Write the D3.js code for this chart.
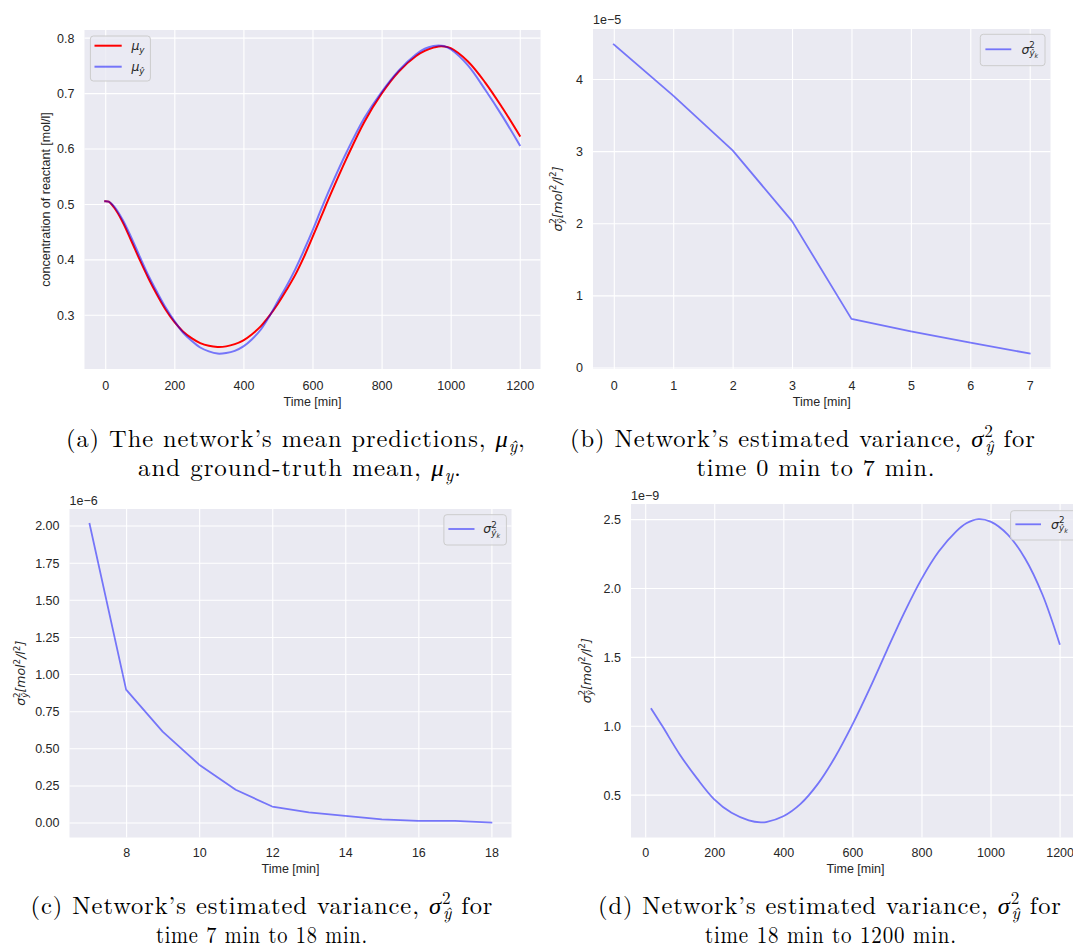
<!DOCTYPE html>
<html>
<head>
<meta charset="utf-8">
<script src="https://cdn.jsdelivr.net/npm/d3@7"></script>
<style>
  body { margin: 0; background: #ffffff; }
  svg { display: block; }
</style>
</head>
<body>
<svg id="fig" width="1073" height="949"></svg>
<script>
// ---------- data ----------
// (a) mean concentration of the reactant: ground truth and network prediction
const timeMean = [0,10,25,50,75,100,125,150,175,200,225,250,275,300,325,350,375,400,425,450,475,500,525,550,575,600,625,650,700,750,800,850,900,925,950,965,980,1000,1050,1100,1150,1200];
const muTrue = [0.505,0.504,0.494,0.468,0.434,0.399,0.366,0.336,0.309,0.287,0.270,0.258,0.249,0.244,0.242,0.243,0.247,0.254,0.265,0.279,0.298,0.320,0.345,0.372,0.404,0.440,0.477,0.514,0.584,0.648,0.699,0.739,0.767,0.776,0.782,0.784,0.784,0.781,0.757,0.719,0.673,0.623];
const muPred = [0.505,0.504,0.496,0.472,0.440,0.405,0.371,0.341,0.313,0.289,0.268,0.253,0.241,0.234,0.230,0.231,0.235,0.243,0.256,0.273,0.297,0.325,0.352,0.382,0.416,0.452,0.490,0.527,0.595,0.655,0.702,0.741,0.770,0.780,0.785,0.786,0.785,0.779,0.750,0.706,0.658,0.606];

// (b) estimated variance, 0 to 7 min
const timeEarly = [0,1,2,3,4,5,6,7];
const varEarly = [4.48e-5,3.77e-5,3.01e-5,2.03e-5,0.674e-5,0.50e-5,0.344e-5,0.193e-5];

// (c) estimated variance, 7 to 18 min
const timeMid = [7,8,9,10,11,12,13,14,15,16,17,18];
const varMid = [2.011e-6,0.895e-6,0.612e-6,0.390e-6,0.221e-6,0.108e-6,0.069e-6,0.045e-6,0.022e-6,0.011e-6,0.011e-6,0.0];

// (d) estimated variance, 18 to 1200 min
const timeLate = [18,50,100,150,200,250,300,335,350,400,450,500,550,600,650,700,750,800,850,900,930,965,1000,1050,1100,1150,1200];
const varLate = [1.122e-9,0.996e-9,0.792e-9,0.618e-9,0.466e-9,0.368e-9,0.314e-9,0.299e-9,0.301e-9,0.343e-9,0.433e-9,0.578e-9,0.773e-9,1.008e-9,1.270e-9,1.548e-9,1.820e-9,2.065e-9,2.265e-9,2.410e-9,2.470e-9,2.500e-9,2.482e-9,2.388e-9,2.215e-9,1.955e-9,1.595e-9];

// tick values
const ticksTimeLong = [0,200,400,600,800,1000,1200];
const ticksConc = [0.3,0.4,0.5,0.6,0.7,0.8];
const ticksTimeEarly = [0,1,2,3,4,5,6,7];
const ticksVarEarly = [0,1e-5,2e-5,3e-5,4e-5];
const ticksTimeMid = [8,10,12,14,16,18];
const ticksVarMid = [0,0.25e-6,0.5e-6,0.75e-6,1.0e-6,1.25e-6,1.5e-6,1.75e-6,2.0e-6];
const ticksVarLate = [0.5e-9,1.0e-9,1.5e-9,2.0e-9,2.5e-9];

// ---------- drawing ----------
const svg = d3.select('#fig');
const SANS = "'Liberation Sans', Arial, sans-serif";
const MATH = "'DejaVu Sans', sans-serif";
const SERIF = "'Latin Modern Roman', 'CMU Serif', 'Liberation Serif', serif";
const INK = '#262626';
const BG = '#eaeaf2';
const RED = '#ff0000';
const BLUE = '#0000ff';

// rich text with italics, superscripts and subscripts built from tspans
function rich(sel, parts, size) {
  let cur = 0;
  parts.forEach(p => {
    const lvl = p.lvl || 0;
    const fs = size * (lvl === 0 ? 1 : lvl === -2 ? 0.5 : 0.7);
    const off = lvl === 1 ? -0.42 * size : lvl === -1 ? 0.22 * size : lvl === -2 ? 0.38 * size : 0;
    const ts = sel.append('tspan').text(p.t).attr('font-size', fs).attr('dy', off - cur);
    if (p.it) ts.attr('font-style', 'italic');
    if (p.back) ts.attr('dx', -p.back * size);
    cur = off;
  });
}

const sigmaLabel = [
  {t: 'σ', it: true}, {t: '2', lvl: 1}, {t: 'ŷ', it: true, lvl: -1, back: 0.44},
  {t: '[mol', it: true}, {t: '2', lvl: 1}, {t: '/l', it: true}, {t: '2', lvl: 1}, {t: ']', it: true}
];
const sigmaLegend = [
  {t: 'σ', it: true}, {t: '2', lvl: 1}, {t: 'ŷ', it: true, lvl: -1, back: 0.44}, {t: 'k', it: true, lvl: -2}
];

function padded(vals) {
  const [lo, hi] = d3.extent(vals);
  const m = (hi - lo) * 0.05;
  return [lo - m, hi + m];
}

function drawPanel(cfg) {
  const b = cfg.box;
  const allX = cfg.series.flatMap(s => s.x);
  const allY = cfg.series.flatMap(s => s.y);
  const x = d3.scaleLinear().domain(padded(allX)).range([b.x0, b.x1]);
  const y = d3.scaleLinear().domain(padded(allY)).range([b.y1, b.y0]);
  const g = svg.append('g');

  g.append('rect').attr('x', b.x0).attr('y', b.y0)
    .attr('width', b.x1 - b.x0).attr('height', b.y1 - b.y0).attr('fill', BG);

  // white grid from the axis generators
  g.append('g').attr('transform', `translate(0,${b.y1})`)
    .call(d3.axisBottom(x).tickValues(cfg.xTicks).tickSize(-(b.y1 - b.y0)).tickFormat(''))
    .call(a => a.select('.domain').remove())
    .call(a => a.selectAll('line').attr('stroke', '#ffffff').attr('stroke-width', 1.1));
  g.append('g').attr('transform', `translate(${b.x0},0)`)
    .call(d3.axisLeft(y).tickValues(cfg.yTicks).tickSize(-(b.x1 - b.x0)).tickFormat(''))
    .call(a => a.select('.domain').remove())
    .call(a => a.selectAll('line').attr('stroke', '#ffffff').attr('stroke-width', 1.1));

  // tick labels
  g.append('g').attr('transform', `translate(0,${b.y1 + cfg.xLabDy})`)
    .call(d3.axisBottom(x).tickValues(cfg.xTicks).tickSize(0).tickPadding(0).tickFormat(cfg.xFmt))
    .call(a => a.select('.domain').remove())
    .call(a => a.selectAll('text').attr('dy', 0).attr('fill', INK)
      .attr('font-family', SANS).attr('font-size', 12.5));
  g.append('g').attr('transform', `translate(${b.x0 - 10},0)`)
    .call(d3.axisLeft(y).tickValues(cfg.yTicks).tickSize(0).tickPadding(0).tickFormat(cfg.yFmt))
    .call(a => a.select('.domain').remove())
    .call(a => a.selectAll('text').attr('dy', '0.35em').attr('fill', INK)
      .attr('font-family', SANS).attr('font-size', 12.5));

  // axis titles
  g.append('text').attr('x', (b.x0 + b.x1) / 2).attr('y', b.y1 + cfg.xTitleDy)
    .attr('text-anchor', 'middle').attr('fill', INK)
    .attr('font-family', SANS).attr('font-size', 12.5).text('Time [min]');
  const yt = g.append('text')
    .attr('transform', `translate(${cfg.yTitleX},${(b.y0 + b.y1) / 2}) rotate(-90)`)
    .attr('text-anchor', 'middle').attr('fill', INK).attr('font-size', 12.5);
  if (typeof cfg.yTitle === 'string') {
    yt.attr('font-family', SANS).text(cfg.yTitle);
  } else {
    yt.attr('font-family', MATH);
    rich(yt, cfg.yTitle, 12.5);
  }

  if (cfg.offset) {
    g.append('text').attr('x', b.x0).attr('y', cfg.offsetY)
      .attr('fill', INK).attr('font-family', SANS).attr('font-size', 12.5).text(cfg.offset);
  }

  // data lines
  const clipId = 'clip-' + cfg.id;
  svg.append('clipPath').attr('id', clipId).append('rect')
    .attr('x', b.x0).attr('y', b.y0).attr('width', b.x1 - b.x0).attr('height', b.y1 - b.y0);
  const lg = g.append('g').attr('clip-path', `url(#${clipId})`);
  cfg.series.forEach(s => {
    const pts = s.x.map((t, i) => [t, s.y[i]]);
    lg.append('path').datum(pts)
      .attr('fill', 'none').attr('stroke', s.color).attr('stroke-opacity', s.op)
      .attr('stroke-width', cfg.lw).attr('stroke-linejoin', 'round').attr('stroke-linecap', 'square')
      .attr('d', d3.line().x(d => x(d[0])).y(d => y(d[1])).curve(cfg.curve));
  });

  // legend
  const L = cfg.legend;
  g.append('rect').attr('x', L.x0).attr('y', L.y0).attr('width', L.w).attr('height', L.h)
    .attr('rx', 3).attr('fill', BG).attr('fill-opacity', 0.8)
    .attr('stroke', '#cccccc').attr('stroke-width', 1);
  L.rows.forEach((r, i) => {
    const s = cfg.series[i];
    g.append('line').attr('x1', L.lx0).attr('x2', L.lx1).attr('y1', r.y).attr('y2', r.y)
      .attr('stroke', s.color).attr('stroke-opacity', s.op).attr('stroke-width', cfg.lw);
    const t = g.append('text').attr('x', L.tx).attr('y', r.y + 4.3)
      .attr('fill', INK).attr('font-family', MATH);
    rich(t, r.label, 12.5);
  });
}

drawPanel({
  id: 'a', box: {x0: 84.5, x1: 540.5, y0: 30, y1: 369}, lw: 2,
  series: [
    {x: timeMean, y: muTrue, color: RED, op: 1},
    {x: timeMean, y: muPred, color: BLUE, op: 0.5}
  ],
  curve: d3.curveCatmullRom,
  xTicks: ticksTimeLong, yTicks: ticksConc,
  xFmt: d3.format('d'), yFmt: d3.format('.1f'),
  xLabDy: 20.5, xTitleDy: 37, yTitleX: 50,
  yTitle: 'concentration of reactant [mol/l]',
  offset: null,
  legend: {x0: 90.4, y0: 36, w: 60, h: 45, lx0: 94.5, lx1: 121.7, tx: 131.4,
    rows: [
      {y: 45.7, label: [{t: 'μ', it: true}, {t: 'y', it: true, lvl: -1}]},
      {y: 66.7, label: [{t: 'μ', it: true}, {t: 'ŷ', it: true, lvl: -1}]}
    ]}
});

drawPanel({
  id: 'b', box: {x0: 593, x1: 1050.5, y0: 29, y1: 369}, lw: 1.8,
  series: [{x: timeEarly, y: varEarly, color: BLUE, op: 0.5}],
  curve: d3.curveLinear,
  xTicks: ticksTimeEarly, yTicks: ticksVarEarly,
  xFmt: d3.format('d'), yFmt: d => (d / 1e-5).toFixed(0),
  xLabDy: 20.5, xTitleDy: 37, yTitleX: 561.5,
  yTitle: sigmaLabel,
  offset: '1e\u22125', offsetY: 24,
  legend: {x0: 980.3, y0: 34.3, w: 64.7, h: 31.4, lx0: 985.4, lx1: 1011.3, tx: 1021.4,
    rows: [{y: 49.3, label: sigmaLegend}]}
});

drawPanel({
  id: 'c', box: {x0: 69.5, x1: 511.5, y0: 509, y1: 837.5}, lw: 1.8,
  series: [{x: timeMid, y: varMid, color: BLUE, op: 0.5}],
  curve: d3.curveLinear,
  xTicks: ticksTimeMid, yTicks: ticksVarMid,
  xFmt: d3.format('d'), yFmt: d => (d / 1e-6).toFixed(2),
  xLabDy: 19, xTitleDy: 35.5, yTitleX: 25,
  yTitle: sigmaLabel,
  offset: '1e\u22126', offsetY: 505,
  legend: {x0: 443.9, y0: 514.7, w: 62.5, h: 30.3, lx0: 448.4, lx1: 474.5, tx: 483.2,
    rows: [{y: 529, label: sigmaLegend}]}
});

drawPanel({
  id: 'd', box: {x0: 631, x1: 1080, y0: 504, y1: 837.5}, lw: 1.8,
  series: [{x: timeLate, y: varLate, color: BLUE, op: 0.5}],
  curve: d3.curveCatmullRom,
  xTicks: ticksTimeLong, yTicks: ticksVarLate,
  xFmt: d3.format('d'), yFmt: d => (d / 1e-9).toFixed(1),
  xLabDy: 19, xTitleDy: 35.5, yTitleX: 590.5,
  yTitle: sigmaLabel,
  offset: '1e\u22129', offsetY: 500,
  legend: {x0: 1010.6, y0: 510.7, w: 70, h: 29.3, lx0: 1015.4, lx1: 1041, tx: 1051,
    rows: [{y: 524.3, label: sigmaLegend}]}
});

// ---------- sub-figure captions ----------
const sigmaHat = [{t: 'σ', it: true}, {t: '2', lvl: 1}, {t: 'ŷ', it: true, lvl: -1, back: 0.35}];
const captions = [
  {cx: 296, y: 447, w: 460, parts: [{t: '(a) The network’s mean predictions, '}, {t: 'μ', it: true}, {t: 'ŷ', it: true, lvl: -1}, {t: ','}]},
  {cx: 300, y: 476, w: 324, parts: [{t: 'and ground-truth mean, '}, {t: 'μ', it: true}, {t: 'y', it: true, lvl: -1}, {t: '.'}]},
  {cx: 803, y: 447, w: 466, parts: [{t: '(b) Network’s estimated variance, '}, ...sigmaHat, {t: ' for'}]},
  {cx: 816, y: 476, w: 239, parts: [{t: 'time 0 min to 7 min.'}]},
  {cx: 262, y: 914, w: 463, parts: [{t: '(c) Network’s estimated variance, '}, ...sigmaHat, {t: ' for'}]},
  {cx: 262, y: 943, w: 212, parts: [{t: 'time 7 min to 18 min.'}]},
  {cx: 830, y: 914, w: 464, parts: [{t: '(d) Network’s estimated variance, '}, ...sigmaHat, {t: ' for'}]},
  {cx: 831, y: 943, w: 252, parts: [{t: 'time 18 min to 1200 min.'}]}
];
captions.forEach(c => {
  const t = svg.append('text').attr('x', 0).attr('y', 0)
    .attr('fill', '#000000').attr('font-family', SERIF).attr('letter-spacing', 0.9);
  rich(t, c.parts, 24);
  const bb = t.node().getBBox();
  const s = c.w / bb.width;
  t.attr('transform', `translate(${c.cx - c.w / 2 - bb.x * s},${c.y}) scale(${s},1)`);
});
</script>
</body>
</html>
